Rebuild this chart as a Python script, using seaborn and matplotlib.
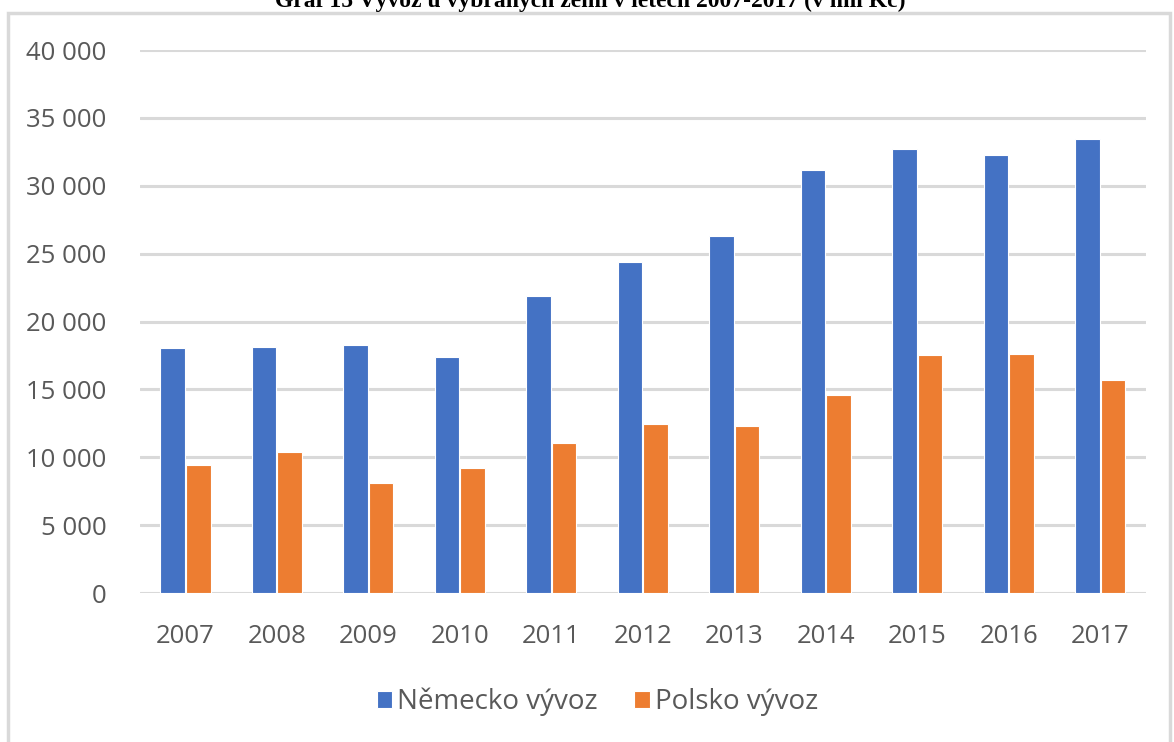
import pandas as pd
import matplotlib.pyplot as plt
from matplotlib.patches import Rectangle
from matplotlib.ticker import FuncFormatter
import seaborn as sns

years = ["2007", "2008", "2009", "2010", "2011", "2012",
         "2013", "2014", "2015", "2016", "2017"]
nemecko = [18050, 18120, 18240, 17380, 21880, 24380,
           26300, 31160, 32700, 32260, 33440]
polsko = [9430, 10390, 8100, 9200, 11050, 12450,
          12300, 14590, 17530, 17600, 15690]
series_names = ["Německo vývoz", "Polsko vývoz"]
title = "Graf 15 Vývoz u vybraných zemí v letech 2007-2017 (v mil Kč)"

df = pd.DataFrame({"rok": years * 2,
                   "hodnota": nemecko + polsko,
                   "serie": [series_names[0]] * len(years) + [series_names[1]] * len(years)})

sns.set_style("white")
plt.rcParams["font.family"] = ["Open Sans", "DejaVu Sans"]

fig = plt.figure(figsize=(11.74, 7.42), dpi=100)
ax = fig.add_axes([0.119, 0.2008, 0.857, 0.7318])

sns.barplot(data=df, x="rok", y="hodnota", hue="serie",
            palette=["#4472C4", "#ED7D31"], saturation=1, width=0.56, gap=0.04,
            edgecolor="white", linewidth=0.8, ax=ax)

ax.set_ylim(0, 40000)
ax.set_xlim(-0.5, len(years) - 0.5)
ax.set_yticks(range(0, 40001, 5000))
ax.yaxis.set_major_formatter(FuncFormatter(lambda v, p: f"{int(v):,}".replace(",", " ")))
ax.grid(axis="y", color="#D9D9D9", linewidth=2.2)
ax.set_axisbelow(True)
for s in ax.spines.values():
    s.set_visible(False)
ax.set_xlabel("")
ax.set_ylabel("")
ax.tick_params(axis="both", colors="#595959", labelsize=18.5, length=0)
ax.tick_params(axis="y", pad=24)
ax.tick_params(axis="x", pad=22)

leg = ax.legend(loc="upper center", bbox_to_anchor=(0.455, -0.128), ncol=2,
                frameon=False, fontsize=20, handlelength=0.55, handleheight=0.55,
                handletextpad=0.2, columnspacing=1.3)
for t in leg.get_texts():
    t.set_color("#595959")

# frame around the chart area
fig.patches.append(Rectangle((8 / 1174, -0.05), 1162 / 1174, 1.05 - 13 / 742,
                             transform=fig.transFigure, fill=False,
                             edgecolor="#D9D9D9", linewidth=2.5))

# title is cut by the top edge in the source image
fig.text(0.503, 1 - 7 / 742, title, ha="center", va="baseline",
         fontsize=17, fontweight="bold", family="Liberation Serif", color="black")

fig.savefig("out.png", dpi=100)
